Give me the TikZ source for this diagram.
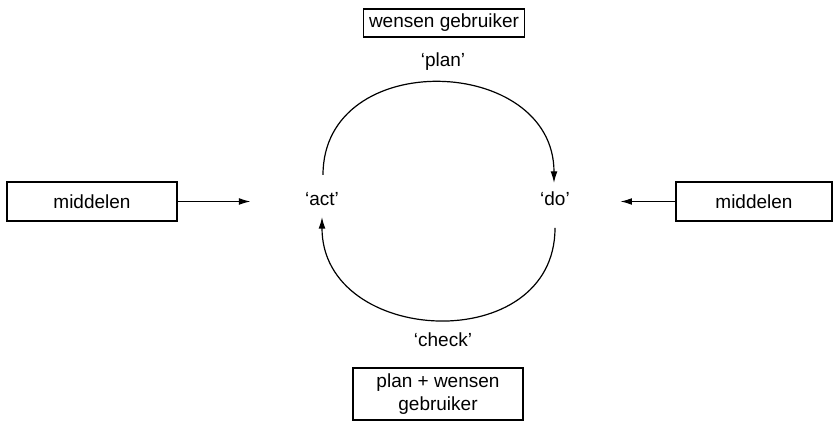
\documentclass[tikz,border=0pt]{standalone}
\usepackage{fontspec}
\setmainfont{Liberation Sans}
\usepackage{tikz}
\usetikzlibrary{arrows.meta,calc}

\begin{document}
\begin{tikzpicture}[x=0.5pt,y=0.5pt,>={Latex[length=5.8pt,width=3.4pt]},line width=0.6pt]
            \tikzstyle{every node}+=[inner sep=0pt,font=\fontsize{9.5}{11.5}\selectfont]
            \tikzstyle{box}=[draw,black,align=center]
            \useasboundingbox (0,0) rectangle (836,421);
            \node [box,minimum width=80.5pt,minimum height=14pt] (wensen) at (444,398) {wensen gebruiker};
            \node (plan) at (443,359) {`plan'};
            \node (act) at (322,222) {`act'};
            \node (do) at (555,222) {`do'};
            \node (check) at (443,81) {`check'};
            \node [box,minimum width=85pt,minimum height=26pt] (planwensen) at (438,27) {plan + wensen\\gebruiker};
            \node [box,minimum width=85pt,minimum height=19.5pt] (middelenL) at (92,219.5) {middelen};
            \node [box,minimum width=78pt,minimum height=19.5pt] (middelenR) at (754,219.5) {middelen};
            \coordinate (actUp) at ($(act)+(1,24)$);
            \coordinate (doUp) at ($(do)+(-1,16)$);
            \coordinate (doDown) at ($(do)+(0,-29)$);
            \coordinate (actDown) at ($(act)+(0,-18)$);
            \draw [->] (actUp) to[out=90,in=90,looseness=1.42] (doUp);
            \draw [->] (doDown) to[out=-90,in=-90,looseness=1.42] (actDown);
            \draw [->,shorten >=27pt] (middelenL.east) -- (act.west |- middelenL.east);
            \draw [->,shorten >=25pt] (middelenR.west) -- (do.east |- middelenR.west);
        \end{tikzpicture}
\end{document}
